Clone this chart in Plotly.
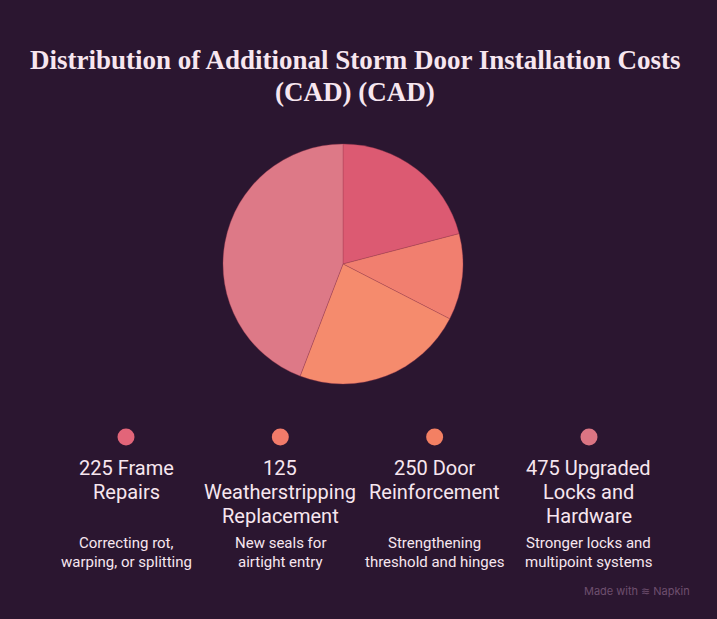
import plotly.graph_objects as go

# ---- data ----
values = [225, 125, 250, 475]
labels = ["Frame Repairs", "Weatherstripping Replacement", "Door Reinforcement",
          "Upgraded Locks and Hardware"]
label_lines = [["225 Frame", "Repairs"], ["125", "Weatherstripping", "Replacement"],
               ["250 Door", "Reinforcement"], ["475 Upgraded", "Locks and", "Hardware"]]
description_lines = [["Correcting rot,", "warping, or splitting"], ["New seals for", "airtight entry"],
                     ["Strengthening", "threshold and hinges"], ["Stronger locks and", "multipoint systems"]]
slice_colors = ["#dc5a72", "#f17f6f", "#f58b6d", "#dd7987"]
dot_colors = ["#e26579", "#f27b6a", "#f38063", "#db7583"]

title_lines = ["Distribution of Additional Storm Door Installation Costs", "(CAD) (CAD)"]

W, H = 717, 619
BG = "#2b1630"
TXT = "#f7e6ef"

fig = go.Figure()

# pie
cx, cy, r = 343, 264, 120
fig.add_trace(go.Pie(
    values=values, labels=labels, sort=False, direction="clockwise", rotation=0,
    textinfo="none", hoverinfo="label+value",
    marker=dict(colors=slice_colors, line=dict(color="rgba(160,60,80,0.6)", width=0.6)),
    domain=dict(x=[(cx - r) / W, (cx + r) / W], y=[1 - (cy + r) / H, 1 - (cy - r) / H]),
    showlegend=False,
))

# legend dots on index axis
idx = list(range(len(values)))
x0_pix, step = 126, 154.33
xr = [-x0_pix / step, (W - x0_pix) / step]
fig.add_trace(go.Scatter(
    x=idx, y=[437] * len(idx), mode="markers",
    marker=dict(size=17, color=dot_colors, line=dict(width=0)),
    hoverinfo="skip", showlegend=False, xaxis="x", yaxis="y",
))

ann = []
for k, line in enumerate(title_lines):
    ann.append(dict(text="<b>" + line + "</b>", x=355 / W, y=60 + 32 * k, xref="paper", yref="y",
                    xanchor="center", yanchor="middle", showarrow=False,
                    font=dict(family="Liberation Serif", size=27, color=TXT)))
for i in idx:
    for k, line in enumerate(label_lines[i]):
        ann.append(dict(text=line, x=i, y=468 + 24 * k, xref="x", yref="y", xanchor="center",
                        yanchor="middle", showarrow=False,
                        font=dict(family="Roboto", size=20, color=TXT)))
    for k, line in enumerate(description_lines[i]):
        ann.append(dict(text=line, x=i, y=543 + 18.5 * k, xref="x", yref="y", xanchor="center",
                        yanchor="middle", showarrow=False,
                        font=dict(family="Roboto", size=15, color=TXT)))
ann.append(dict(text="Made with ≋ Napkin", x=692 / W, y=591, xref="paper", yref="y",
                xanchor="right", yanchor="middle", showarrow=False,
                font=dict(family="Inter", size=11, color="#6e4f6e")))

fig.update_layout(
    width=W, height=H, margin=dict(l=0, r=0, t=0, b=0),
    paper_bgcolor=BG, plot_bgcolor=BG,
    xaxis=dict(range=xr, visible=False, domain=[0, 1], fixedrange=True),
    yaxis=dict(range=[H, 0], visible=False, domain=[0, 1], fixedrange=True),
    annotations=ann,
)

fig.write_html("out.html")
